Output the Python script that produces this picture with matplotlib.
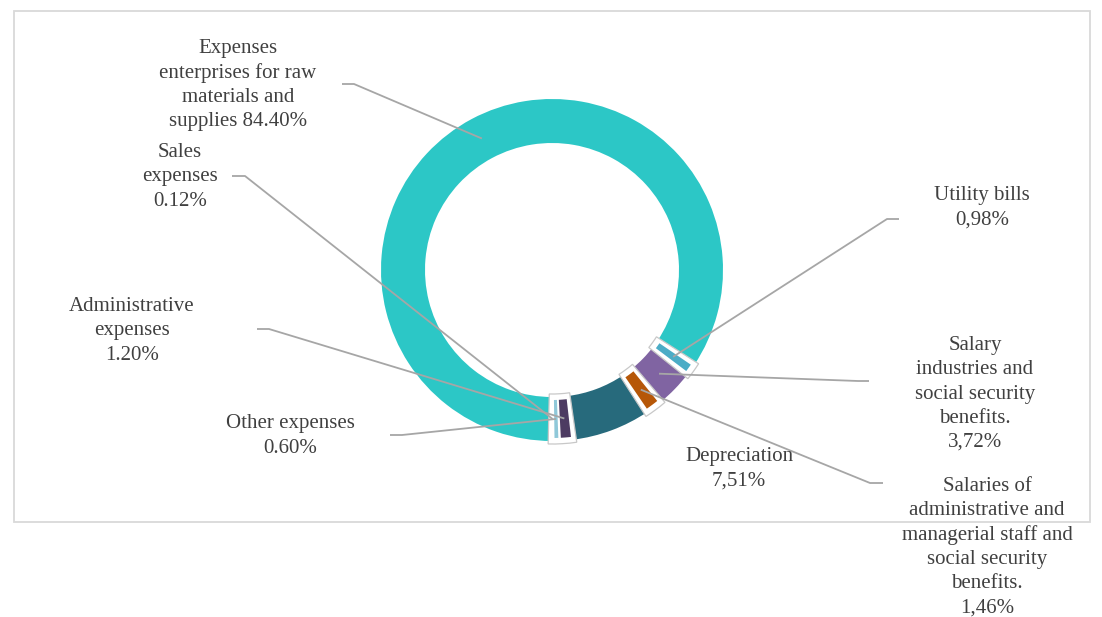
import numpy as np
import matplotlib.pyplot as plt
from matplotlib.patches import Wedge, Rectangle

# data, clockwise from 6 o'clock
labels = ["Expenses\nenterprises for raw\nmaterials and\nsupplies 84.40%",
          "Utility bills\n0,98%",
          "Salary\nindustries and\nsocial security\nbenefits.\n3,72%",
          "Salaries of\nadministrative and\nmanagerial staff and\nsocial security\nbenefits.\n1,46%",
          "Depreciation\n7,51%",
          "Administrative\nexpenses\n1.20%",
          "Other expenses\n0.60%",
          "Sales\nexpenses\n0.12%"]
values = [84.40, 0.98, 3.72, 1.46, 7.51, 1.20, 0.60, 0.12]
colors = ["#2CC7C6", "#4BACC6", "#8064A2", "#B65708",
          "#276A7C", "#4D3B62", "#8FC8D9", "#2C4D75"]

W, H = 1102, 617
cx, cy = 552, H - 270
R, ring = 171, 44

# label layout (pixel coords from top-left): text centre, leader start, elbow
text_pos = [(238, 85), (982, 208), (975, 394), (987, 547),
            (739, 469), (132, 331), (290, 436), (180, 177)]
leader = [((342, 84), (354, 84)), ((899, 219), (887, 219)),
          ((869, 381), (858, 381)), ((883, 483), (870, 483)),
          None, ((257, 329), (269, 329)), ((390, 435), (402, 435)),
          ((232, 176), (245, 176))]
groups = [[1], [3], [5, 6, 7]]  # selected-looking slices

plt.rcParams['font.family'] = ['Liberation Serif', 'DejaVu Serif']
fig = plt.figure(figsize=(W / 100, H / 100), dpi=100)
ax = fig.add_axes([0, 0, 1, 1])

ax.add_patch(Rectangle((14, H - 522), 1076, 511, fill=False,
                       ec='#D9D9D9', lw=1.3))

wedges, _ = ax.pie(values, colors=colors, startangle=270, counterclock=False,
                   radius=R, center=(cx, cy), frame=True,
                   wedgeprops=dict(width=ring, linewidth=0))
ax.set_xlim(0, W)
ax.set_ylim(0, H)
ax.axis('off')

rmid = R - ring / 2
pad = np.degrees(1.1 / rmid)
for g in groups:
    t1 = min(wedges[i].theta1 for i in g)
    t2 = max(wedges[i].theta2 for i in g)
    ax.add_patch(Wedge((cx, cy), R + 3, t1 - 3 * pad, t2 + 3 * pad,
                       width=ring + 6, fc='white', ec='#C8C8C8', lw=0.9,
                       zorder=3))
    for i in g:
        a1, a2 = wedges[i].theta1 + pad, wedges[i].theta2 - pad
        if a2 > a1:
            ax.add_patch(Wedge((cx, cy), R - 3, a1, a2, width=ring - 6,
                               fc=colors[i], lw=0, zorder=4))

for i, w in enumerate(wedges):
    x, y = text_pos[i]
    ax.text(x, H - y, labels[i], ha='center', va='center',
            multialignment='center', fontsize=15, color='#404040',
            linespacing=1.36, zorder=6)
    if leader[i] is None:
        continue
    mid = np.radians((w.theta1 + w.theta2) / 2)
    px, py = cx + rmid * np.cos(mid), cy + rmid * np.sin(mid)
    (x0, y0), (x1, y1) = leader[i]
    ax.plot([x0, x1, px], [H - y0, H - y1, py], color='#A6A6A6', lw=1.3,
            zorder=5, solid_capstyle='butt')

fig.savefig('out.png', dpi=100)
